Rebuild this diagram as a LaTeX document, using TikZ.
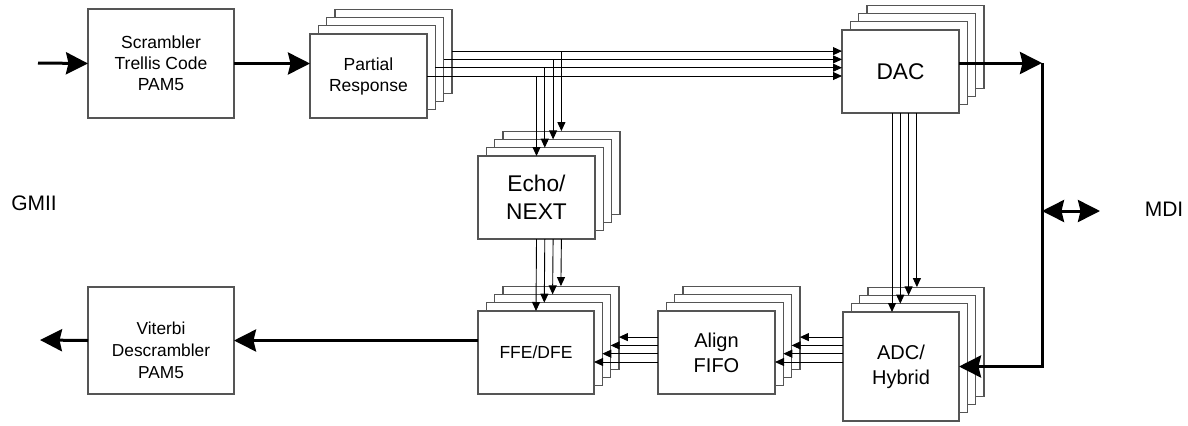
\documentclass[tikz,border=0pt]{standalone}
\usepackage{fontspec}
\setmainfont{Liberation Sans}
\usetikzlibrary{arrows.meta,calc}
\definecolor{boxc}{RGB}{85,85,85}
\tikzset{bighead/.tip={Stealth[length=22bp,width=22bp,inset=2.5bp]}}
\newcommand\backlayers[5]{%
  \foreach \k in {4,3,2}{%
    \node[box, minimum width=#4bp, minimum height=#5bp] (#1\k) at ({#2+(\k-1)*8.3},{#3-(\k-1)*8.3}) {};
  }%
}
\begin{document}
\begin{tikzpicture}[x=1bp,y=-1bp,
  box/.style={draw=boxc, line width=1.2bp, fill=white, inner sep=0pt, outer sep=0pt, anchor=north west, align=center},
  fsmall/.style={font=\fontsize{17.5bp}{21bp}\selectfont},
  fbig/.style={font=\fontsize{22.7bp}{28bp}\selectfont},
  fmid/.style={font=\fontsize{20bp}{25bp}\selectfont},
  wire/.style={draw=black, line width=0.9bp, -{Triangle[length=9bp,width=8bp]}},
  fat/.style={line width=3bp, -bighead},
  lbl/.style={inner sep=0pt, font=\fontsize{21bp}{24bp}\selectfont}]
\useasboundingbox (0,0) rectangle (1188,425);

% back layers of the stacks
\backlayers{p}{310}{34}{117}{84}
\backlayers{d}{842}{30}{117}{83}
\backlayers{e}{478}{156}{117}{83}
\backlayers{f}{478}{311}{116}{83}
\backlayers{al}{658}{311}{117}{83}
\backlayers{a}{843}{312}{116}{109}

% single boxes and front layers
\node[box, minimum width=146bp, minimum height=109bp] (s) at (88,9) {};
\node[fsmall, align=center] (stxt) at (161,63) {Scrambler\\Trellis Code\\PAM5};
\node[box, minimum width=146bp, minimum height=107bp] (v) at (88,287) {};
\node[font=\fontsize{17.3bp}{22bp}\selectfont, align=center] (vtxt) at (161,350) {Viterbi\\Descrambler\\PAM5};
\node[box, fsmall, minimum width=117bp, minimum height=84bp] (p1) at (310,34) {Partial\\Response};
\node[box, fbig, minimum width=117bp, minimum height=83bp] (d1) at (842,30) {DAC};
\node[box, fbig, minimum width=117bp, minimum height=83bp] (e1) at (478,156) {Echo/\\NEXT};
\node[box, fsmall, minimum width=116bp, minimum height=83bp] (f1) at (478,311) {FFE/DFE};
\node[box, fmid, minimum width=117bp, minimum height=83bp] (al1) at (658,311) {Align\\FIFO};
\node[box, fmid, minimum width=116bp, minimum height=109bp] (a1) at (843,312) {ADC/\\Hybrid};

% labels
\node[lbl] (gmii) at (34,203) {GMII};
\node[lbl] (mdi) at (1164,209) {MDI};

% named free ends
\coordinate (in) at (38,63);
\coordinate (out) at (40,340);
\coordinate (bt) at (1042,63);
\coordinate (bm) at (1042,211);
\coordinate (mdiend) at (1100,211);
\coordinate (bb) at (bt |- a1.east);

% thin connectors
\foreach \k in {1,2,3,4}{
  \coordinate (fy\k) at ($(f\k.east)+(0,9.5)$);
  \coordinate (aly\k) at ($(al\k.east)+(0,9.5)$);
  \coordinate (dx\k) at ($(d\k.south)+(-8.5,0)$);
  \draw[wire] (p\k.east) -- (d1.west |- p\k.east);
  \draw[wire] (e\k.north |- p\k.east) -- (e\k.north);
  \draw[wire] (e\k.south |- e1.south) -- (f\k.north);
  \draw[wire] (al1.west |- fy\k) -- (fy\k);
  \draw[wire] (a1.west |- aly\k) -- (aly\k);
  \draw[wire] (dx\k |- d1.south) -- (dx\k |- a\k.north);
}

% thick connectors
\draw[fat] (in) -- (s.west);
\draw[fat] (s.east) -- (s.east -| p1.west);
\draw[fat] (d1.east |- bt) -- (bt);
\draw[fat] (bt) -- (bb) -- (a1.east);
\draw[line width=3bp, bighead-bighead] (bm) -- (mdiend);
\draw[fat] (v.east -| f1.west) -- (v.east);
\draw[fat] (v.west) -- (out);
\end{tikzpicture}
\end{document}
